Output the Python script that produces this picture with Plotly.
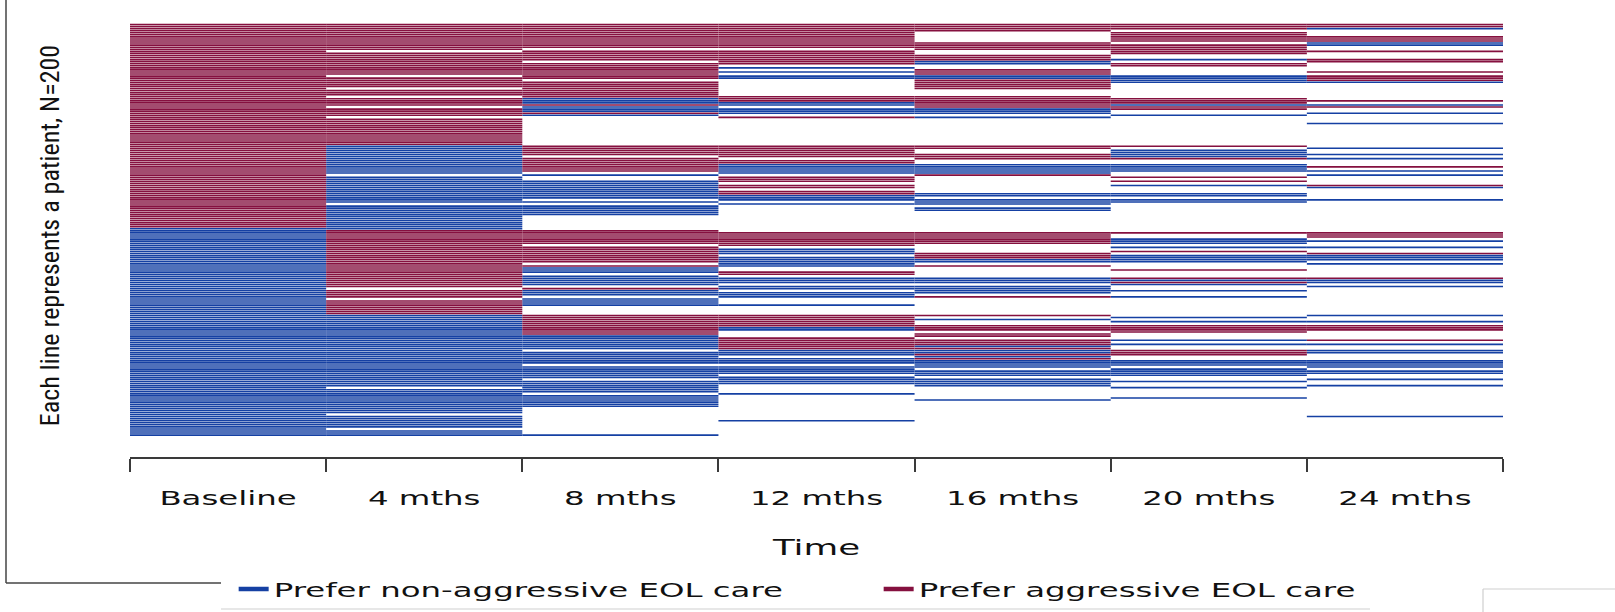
import plotly.graph_objects as go

# ---- data ----
time_labels = ["Baseline", "4 mths", "8 mths", "12 mths", "16 mths", "20 mths", "24 mths"]
n_patients = 200
state_names = {"N": "Prefer non-aggressive EOL care", "A": "Prefer aggressive EOL care"}

# (first patient row, last patient row, preference) ; rows not listed = no answer
seg_baseline = [(0, 98, "A"), (99, 199, "N")]
seg_4m = [(0, 12, "A"), (14, 24, "A"), (26, 30, "A"), (32, 34, "A"), (36, 39, "A"), (41, 44, "A"), (46, 58, "A"),
          (59, 72, "N"), (74, 86, "N"), (88, 99, "N"),
          (100, 127, "A"), (129, 132, "A"), (134, 140, "A"),
          (141, 175, "N"), (177, 188, "N"), (190, 195, "N"), (197, 199, "N")]
seg_8m = [(0, 11, "A"), (13, 17, "A"), (19, 26, "A"), (28, 35, "A"), (36, 38, "N"), (39, 39, "A"), (40, 42, "N"),
          (43, 43, "A"), (44, 44, "N"),
          (59, 63, "A"), (65, 71, "A"), (73, 73, "N"), (76, 84, "N"), (86, 86, "N"), (88, 92, "N"),
          (100, 106, "A"), (108, 115, "A"), (117, 117, "A"), (118, 120, "N"), (122, 126, "N"), (128, 128, "A"),
          (129, 131, "N"), (133, 136, "N"),
          (141, 150, "A"), (151, 157, "N"), (159, 164, "N"), (166, 171, "N"), (173, 178, "N"), (180, 185, "N"),
          (199, 199, "N")]
seg_12m = [(0, 11, "A"), (13, 19, "A"), (21, 21, "N"), (23, 23, "N"), (25, 26, "N"), (35, 37, "A"), (38, 39, "N"),
           (41, 43, "N"), (45, 45, "A"),
           (59, 64, "A"), (66, 67, "A"), (68, 72, "N"), (74, 76, "A"), (78, 79, "A"), (81, 82, "A"), (83, 85, "N"),
           (87, 87, "N"),
           (101, 107, "A"), (109, 111, "N"), (113, 117, "N"), (120, 121, "A"), (123, 125, "N"), (127, 128, "N"),
           (130, 132, "N"), (136, 136, "N"),
           (141, 146, "A"), (147, 148, "N"), (152, 157, "A"), (158, 160, "N"), (162, 164, "N"), (166, 169, "N"),
           (171, 174, "N"), (179, 179, "N"), (192, 192, "N")]
seg_16m = [(0, 3, "A"), (9, 12, "A"), (15, 17, "A"), (18, 19, "N"), (22, 24, "A"), (25, 26, "N"), (27, 31, "A"),
           (35, 40, "A"), (41, 43, "N"), (45, 45, "N"),
           (59, 60, "A"), (63, 65, "A"), (68, 72, "N"), (73, 73, "A"), (82, 83, "N"), (85, 87, "N"), (89, 90, "N"),
           (101, 106, "A"), (111, 113, "A"), (114, 115, "N"), (117, 117, "A"), (123, 125, "N"), (127, 130, "N"),
           (132, 132, "A"),
           (141, 141, "A"), (143, 143, "N"), (146, 148, "A"), (150, 151, "A"), (153, 155, "A"), (156, 156, "N"),
           (157, 157, "A"), (158, 159, "N"), (160, 160, "A"), (161, 161, "N"), (162, 162, "A"), (163, 166, "N"),
           (168, 170, "N"), (172, 175, "N"), (182, 182, "N")]
seg_20m = [(0, 2, "A"), (4, 8, "A"), (10, 14, "A"), (17, 17, "N"), (19, 20, "A"), (25, 28, "N"), (36, 38, "A"),
           (39, 39, "N"), (40, 41, "A"), (44, 44, "N"),
           (59, 59, "A"), (61, 64, "N"), (65, 65, "A"), (68, 71, "N"), (74, 74, "A"), (76, 76, "A"), (78, 78, "N"),
           (82, 83, "N"), (85, 86, "N"),
           (101, 101, "A"), (104, 106, "N"), (108, 108, "N"), (110, 110, "A"), (112, 115, "N"), (119, 119, "A"),
           (123, 123, "A"), (124, 124, "N"), (125, 125, "A"), (126, 126, "N"), (129, 129, "N"), (132, 132, "N"),
           (142, 142, "N"), (144, 144, "N"), (146, 149, "A"), (153, 153, "N"), (155, 155, "N"), (158, 160, "A"),
           (163, 165, "N"), (167, 170, "N"), (173, 173, "N"), (176, 176, "N"), (181, 181, "N")]
seg_24m = [(0, 1, "A"), (2, 2, "N"), (6, 8, "A"), (9, 10, "N"), (13, 13, "A"), (17, 18, "A"), (23, 23, "A"),
           (25, 27, "A"), (28, 28, "N"), (37, 37, "A"), (39, 39, "N"), (40, 40, "A"), (43, 43, "N"), (48, 48, "N"),
           (60, 60, "N"), (63, 63, "N"), (65, 65, "N"), (69, 69, "A"), (71, 71, "N"), (73, 73, "N"), (78, 78, "A"),
           (79, 79, "N"), (85, 85, "N"),
           (101, 103, "A"), (105, 105, "N"), (108, 108, "N"), (111, 111, "A"), (112, 114, "N"), (116, 116, "N"),
           (123, 123, "A"), (124, 125, "N"), (127, 127, "N"), (141, 141, "N"), (144, 144, "N"), (146, 148, "A"),
           (153, 153, "A"), (155, 155, "N"), (158, 159, "N"), (163, 166, "N"), (168, 169, "N"), (172, 172, "N"),
           (175, 175, "N"), (190, 190, "N")]

columns = [seg_baseline, seg_4m, seg_8m, seg_12m, seg_16m, seg_20m, seg_24m]

# ---- styling ----
colors = {"N": "#1540A3", "A": "#85103F"}
axis_color = "#3a3a3a"
W, H = 1615, 612
ML, MR, MT, MB = 130, 112, 14, 155

xs = {"N": [], "A": []}
ys = {"N": [], "A": []}
for j, segs in enumerate(columns):
    for first, last, code in segs:
        for r in range(first, last + 1):
            xs[code] += [j, j + 1, None]
            ys[code] += [r, r, None]

fig = go.Figure()
for code in ["N", "A"]:
    fig.add_trace(go.Scatter(x=xs[code], y=ys[code], mode="lines",
                             line=dict(color=colors[code], width=1.6),
                             hoverinfo="skip", showlegend=False))
for code in ["N", "A"]:
    fig.add_trace(go.Scatter(x=[None], y=[None], mode="lines", name=state_names[code],
                             line=dict(color=colors[code], width=4.5), showlegend=True))


# page frame decoration (pixel positions converted to paper units)
def px(x):
    return (x - ML) / (W - ML - MR)


def py(y):
    return (H - MB - y) / (H - MT - MB)


frame = [((6, 0), (6, 583), "#444444", 1.5),
         ((6, 583), (221, 583), "#444444", 1.5),
         ((221, 609), (1370, 609), "#cfcfcf", 1.2),
         ((1483, 589), (1615, 589), "#cfcfcf", 1.2),
         ((1483, 589), (1483, 612), "#cfcfcf", 1.2)]
shapes = [dict(type="line", xref="paper", yref="paper", x0=px(a[0]), y0=py(a[1]), x1=px(b[0]), y1=py(b[1]),
               line=dict(color=c, width=w), layer="above") for a, b, c, w in frame]

ncol = len(time_labels)
fig.update_layout(
    width=W, height=H, autosize=False,
    margin=dict(l=ML, r=MR, t=MT, b=MB, autoexpand=False),
    paper_bgcolor="white", plot_bgcolor="white",
    font=dict(family="DejaVu Sans", color="#111111"),
    shapes=shapes,
    xaxis=dict(range=[0, ncol], showgrid=False, zeroline=False, automargin=False,
               showline=True, linecolor=axis_color, linewidth=1.6,
               tickmode="array", tickvals=[i + 0.5 for i in range(ncol)], ticktext=time_labels,
               ticks="outside", ticklen=22, tickcolor="rgba(0,0,0,0)",
               tickfont=dict(family="DejaVu Sans", size=20, color="#111111"),
               minor=dict(tickmode="array", tickvals=list(range(ncol + 1)), ticks="outside",
                          ticklen=13, tickwidth=2, tickcolor=axis_color, showgrid=False),
               title=dict(text="Time", font=dict(family="DejaVu Sans", size=22, color="#111111"),
                          standoff=31)),
    yaxis=dict(range=[209.6, -5.09], showgrid=False, zeroline=False, showline=False, automargin=False,
               showticklabels=False, ticks="",
               title=dict(text="Each line represents a patient, N=200",
                          font=dict(family="Liberation Sans Narrow, Roboto Condensed, Arial Narrow, sans-serif",
                                    size=26, color="#111111"),
                          standoff=61)),
    legend=dict(orientation="h", x=0.0755, xanchor="left", yref="container", y=0.0376, yanchor="middle",
                entrywidth=600, entrywidthmode="pixels",
                font=dict(family="DejaVu Sans", size=20, color="#111111"),
                bgcolor="rgba(0,0,0,0)"),
)

post = """
var gd = document.getElementById('{plot_id}');
var k = 1.62;
gd.querySelectorAll('.xtick text, .legendtext, .g-xtitle text').forEach(function(t){
  var w = t.getComputedTextLength();
  t.setAttribute('lengthAdjust', 'spacingAndGlyphs');
  t.setAttribute('textLength', (w * k).toFixed(1));
});
"""
fig.write_html("out.html", post_script=post)
